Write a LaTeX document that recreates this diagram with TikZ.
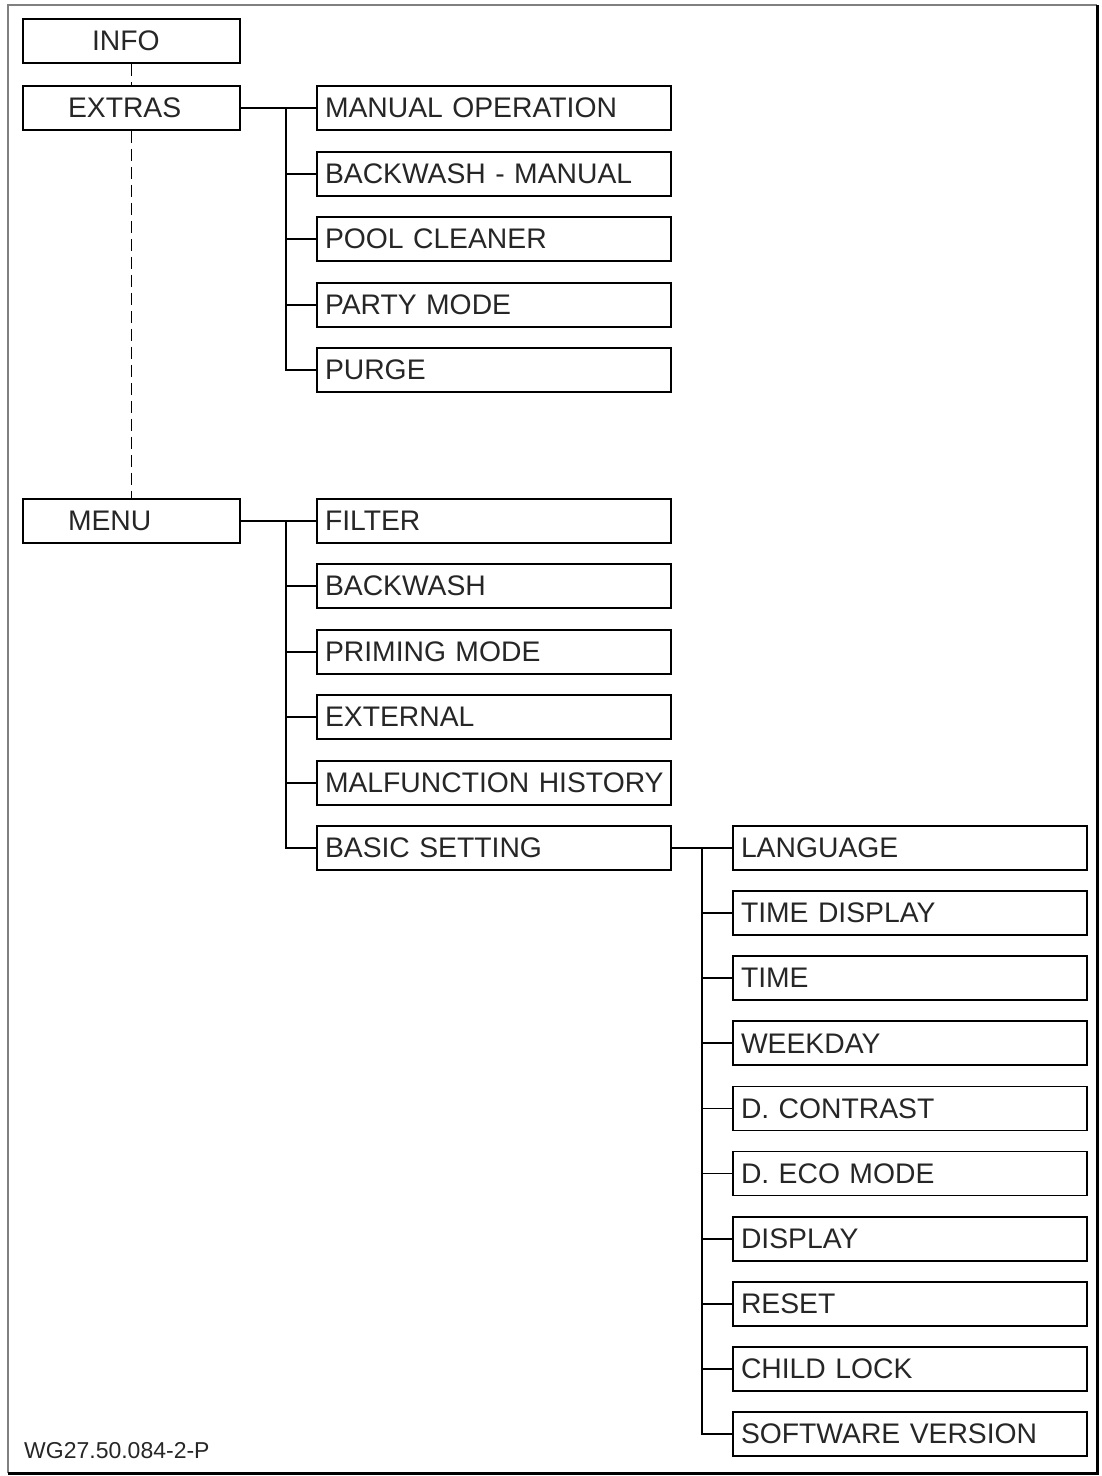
\documentclass[tikz,border=0pt]{standalone}
\usepackage{fontspec}
\setmainfont{Liberation Sans}
\begin{document}
\begin{tikzpicture}[x=1pt,y=-1pt,
  box/.style={draw, line width=1.8pt, minimum height=44pt, inner ysep=0pt,
    font=\fontsize{28.3}{30}\selectfont, text=black!85},
  topbox/.style={box, text width=127pt, inner xsep=45pt, align=left},
  sub/.style={box, text width=338pt, inner xsep=8pt, align=left},
  conn/.style={line width=1.8pt},
  dashline/.style={line width=1.8pt, dash pattern=on 12pt off 6pt}
]
\useasboundingbox (0,0) rectangle (1101,1476);
% frame
\draw[gray, line width=2pt] (8,1473) -- (8,5) -- (1097,5);
\draw[black, line width=3pt] (1097,5) -- (1097,1473) -- (8,1473);

% top level
\node[topbox] (info)   at (131.5,41)  {\hspace*{24pt}INFO};
\node[topbox] (extras) at (131.5,108) {EXTRAS};
\node[topbox] (menu)   at (131.5,521) {MENU};

\draw[dashline] (info.south) -- (extras.north);
\draw[dashline] (extras.south) -- (menu.north);

% EXTRAS children
\node[sub] (e1) at (494,108) {MANUAL OPERATION};
\node[sub] (e2) at (494,174) {BACKWASH - MANUAL};
\node[sub] (e3) at (494,239) {POOL CLEANER};
\node[sub] (e4) at (494,305) {PARTY MODE};
\node[sub] (e5) at (494,370) {PURGE};
\coordinate (je) at (286,108);
\draw[conn] (extras.east) -- (e1.west);
\foreach \n in {e2,e3,e4,e5} \draw[conn] (je) |- (\n.west);

% MENU children
\node[sub] (m1) at (494,521) {FILTER};
\node[sub] (m2) at (494,586) {BACKWASH};
\node[sub] (m3) at (494,652) {PRIMING MODE};
\node[sub] (m4) at (494,717) {EXTERNAL};
\node[sub] (m5) at (494,783) {\mbox{MALFUNCTION HISTORY}};
\node[sub] (m6) at (494,848) {BASIC SETTING};
\coordinate (jm) at (286,521);
\draw[conn] (menu.east) -- (m1.west);
\foreach \n in {m2,m3,m4,m5,m6} \draw[conn] (jm) |- (\n.west);

% BASIC SETTING children
\node[sub] (b1)  at (910,848)    {LANGUAGE};
\node[sub] (b2)  at (910,913.1)  {TIME DISPLAY};
\node[sub] (b3)  at (910,978.2)  {TIME};
\node[sub] (b4)  at (910,1043.3) {WEEKDAY};
\node[sub] (b5)  at (910,1108.4) {D. CONTRAST};
\node[sub] (b6)  at (910,1173.5) {D. ECO MODE};
\node[sub] (b7)  at (910,1238.6) {DISPLAY};
\node[sub] (b8)  at (910,1303.7) {RESET};
\node[sub] (b9)  at (910,1368.8) {CHILD LOCK};
\node[sub] (b10) at (910,1434)   {SOFTWARE VERSION};
\coordinate (jb) at (702,848);
\draw[conn] (m6.east) -- (b1.west);
\foreach \n in {b2,b3,b4,b5,b6,b7,b8,b9,b10} \draw[conn] (jb) |- (\n.west);

\node[anchor=base west, inner sep=0pt, font=\fontsize{23}{25}\selectfont, text=black!85] (code) at (24,1458) {WG27.50.084-2-P};
\end{tikzpicture}
\end{document}
